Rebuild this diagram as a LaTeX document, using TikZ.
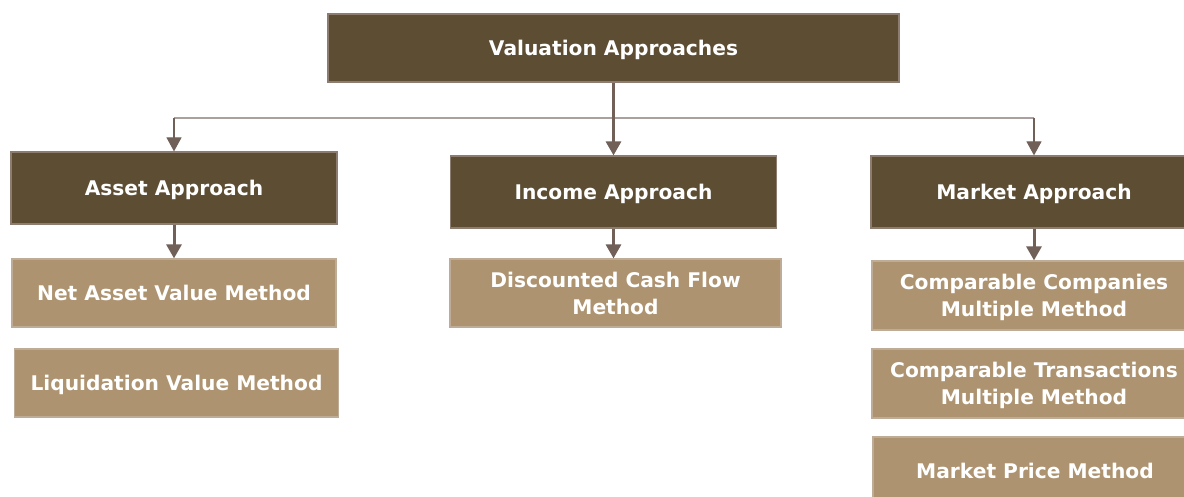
\documentclass[tikz,border=0pt]{standalone}
\usepackage{fontspec}
\setmainfont{DejaVu Sans}
\usetikzlibrary{shapes}
\usetikzlibrary{arrows.meta}
\definecolor{approachbrown}{RGB}{92,77,51}
\definecolor{methodtan}{RGB}{173,147,112}
\definecolor{boxline}{RGB}{140,125,112}
\definecolor{methodline}{RGB}{190,172,150}
\definecolor{linkbrown}{RGB}{112,96,88}
\definecolor{busgray}{RGB}{170,160,158}

\begin{document}
\begin{tikzpicture}[x=0.5pt,y=-0.5pt]
\tikzstyle{box}=[rectangle,line width=0.6pt,text=white,align=center,inner sep=0pt,text depth=0pt,
  font=\bfseries\fontsize{10.1}{13.5}\selectfont]
\tikzstyle{approach}=[box,fill=approachbrown,draw=boxline,minimum width=163pt,minimum height=36pt]
\tikzstyle{method}=[box,fill=methodtan,draw=methodline,minimum width=162pt,minimum height=34pt]
\tikzstyle{bus}=[draw=busgray,line width=0.6pt]
\tikzstyle{link}=[draw=linkbrown,line width=1.5pt,-{Triangle[length=7pt,width=7.5pt]}]
\useasboundingbox (0,0) rectangle (1184,497);
\fill[white] (0,0) rectangle (1184,497);
% top level
\node[approach,minimum width=285.5pt,minimum height=34pt] (valuation) at (613.5,48) {Valuation Approaches};
% approaches
\node[approach] (asset) at (174,188) {Asset Approach};
\node[approach] (income) at (613.5,192) {Income Approach};
\node[approach] (market) at (1034,192) {Market Approach};
% methods
\node[method] (netasset) at (174,293) {Net Asset Value Method};
\node[method] (liquidation) at (176.5,383) {Liquidation Value Method};
\node[method,minimum width=165.5pt] (dcf) at (615.5,293) {Discounted Cash Flow\\Method};
\node[method,minimum height=34.5pt] (compcos) at (1034,295.5) {Comparable Companies\\Multiple Method};
\node[method,minimum height=34.5pt] (comptrans) at (1034,383.5) {Comparable Transactions\\Multiple Method};
\node[method] (marketprice) at (1035,471) {Market Price Method};
% connectors
\coordinate (bus) at (613.5,118);
\draw[bus] (asset.north |- bus) -- (market.north |- bus);
\draw[bus,line width=0.6pt,-{Triangle[length=7pt,width=7.5pt]},linkbrown] (asset.north |- bus) -- (asset.north);
\draw[bus,line width=0.6pt,-{Triangle[length=7pt,width=7.5pt]},linkbrown] (market.north |- bus) -- (market.north);
\draw[link] (valuation.south) -- (income.north);
\draw[link] (asset.south) -- (netasset.north);
\draw[link] (income.south) -- (dcf.north -| income.south);
\draw[link] (market.south) -- (compcos.north);
\end{tikzpicture}
\end{document}
